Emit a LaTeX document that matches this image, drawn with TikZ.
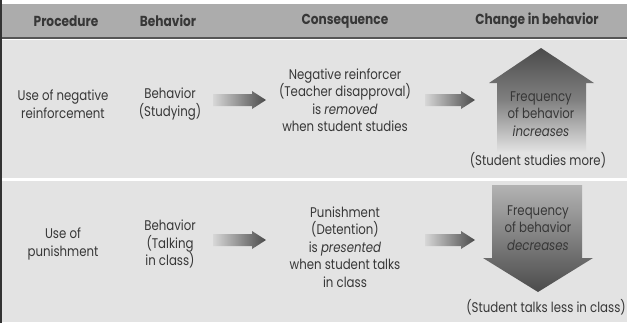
\documentclass[tikz,border=0pt]{standalone}
\usepackage{fontspec}
\setmainfont{Poppins}[FakeStretch=0.84]
\usepackage{tikz}
\usetikzlibrary{calc}
\definecolor{headgray}{RGB}{172,172,172}
\definecolor{rowgray}{RGB}{227,227,227}
\definecolor{rulegray}{RGB}{85,85,85}
\definecolor{inkgray}{RGB}{55,55,55}
\definecolor{arrowdark}{RGB}{75,75,75}
\definecolor{arrowlight}{RGB}{215,215,215}
\tikzset{
  head/.style={font=\fontsize{14.5}{16}\selectfont\bfseries, text=inkgray, anchor=center},
  cell/.style={font=\fontsize{14}{17.5}\selectfont, text=inkgray, align=center, inner sep=0pt},
  fatarrow/.style={left color=arrowlight, right color=arrowdark, draw=none},
}
% horizontal fat arrow between two named coordinates
\newcommand{\fatarrow}[2]{%
  \shade[fatarrow] ($(#1)+(0,-6)$) -- ($(#2)+(-14,-6)$) -- ($(#2)+(-14,-9)$) -- (#2)
    -- ($(#2)+(-14,9)$) -- ($(#2)+(-14,6)$) -- ($(#1)+(0,6)$) -- cycle;}

\begin{document}
\begin{tikzpicture}[x=1pt,y=-1pt]
\useasboundingbox (0,0) rectangle (630,325);
\fill[white] (0,0) rectangle (630,325);
% table frame
\fill[headgray] (0,4) rectangle (627,37);
\fill[rulegray] (0,37) rectangle (627,39);
\fill[rowgray] (0,40) rectangle (627,178);
\fill[rowgray] (0,181) rectangle (627,322);
\fill[black!80] (0,0) rectangle (2,323);

% header
\node[head] (hproc) at (66,21) {Procedure};
\node[head] (hbeh) at (168,21) {Behavior};
\node[head] (hcon) at (345,21) {Consequence};
\node[head] (hchg) at (537,21) {Change in behavior};

% big arrows
\shade[top color=arrowdark, bottom color=rowgray, middle color=arrowdark!65!rowgray]
  (541,48) -- (594,83) -- (586,83) -- (586,152) -- (497,152) -- (497,83) -- (489,83) -- cycle;
\shade[top color=black!30, bottom color=arrowdark, middle color=black!50]
  (492,185) -- (582,185) -- (582,258) -- (593,258) -- (538,292) -- (483,258) -- (492,258) -- cycle;

% row 1
\node[cell] (proc1) at (63,104) {Use of negative\\reinforcement};
\node[cell] (beh1) at (170,104) {Behavior\\(Studying)};
\node[cell] (con1) at (345,100) {Negative reinforcer\\(Teacher disapproval)\\is \textit{removed}\\when student studies};
\node[cell] (freq1) at (541,114) {Frequency\\of behavior\\\textit{increases}};
\node[cell] (res1) at (538,160) {(Student studies more)};
\coordinate (a1s) at (213,100);
\coordinate (a1e) at (266,100);
\coordinate (b1s) at (425,100);
\coordinate (b1e) at (475,100);
\fatarrow{a1s}{a1e}
\fatarrow{b1s}{b1e}

% row 2
\node[cell] (proc2) at (63,244) {Use of\\punishment};
\node[cell] (beh2) at (170,244) {Behavior\\(Talking\\in class)};
\node[cell] (con2) at (345,247) {Punishment\\(Detention)\\is \textit{presented}\\when student talks\\in class};
\node[cell] (freq2) at (538,228) {Frequency\\of behavior\\\textit{decreases}};
\node[cell] (res2) at (546,307) {(Student talks less in class)};
\coordinate (a2s) at (213,240);
\coordinate (a2e) at (266,240);
\coordinate (b2s) at (425,240);
\coordinate (b2e) at (475,240);
\fatarrow{a2s}{a2e}
\fatarrow{b2s}{b2e}
\end{tikzpicture}
\end{document}
